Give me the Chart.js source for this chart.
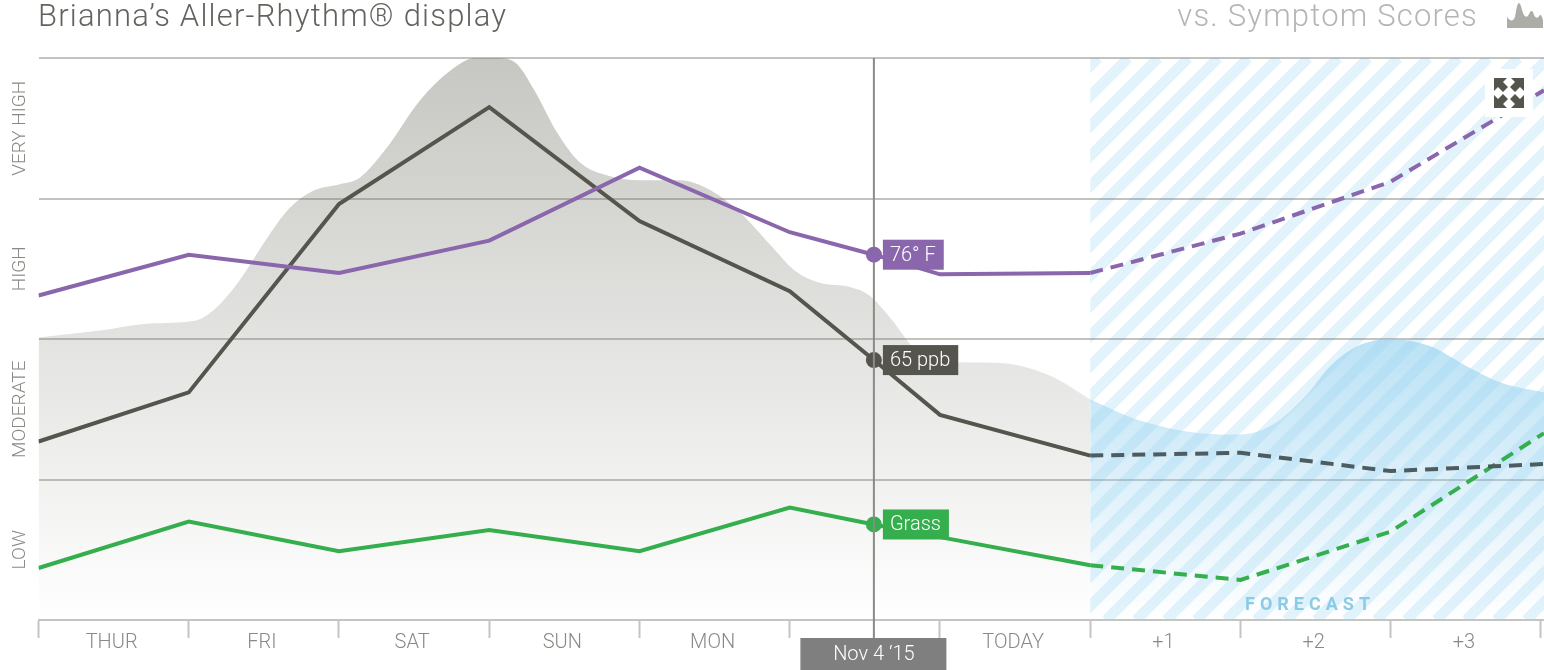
<!DOCTYPE html>
<html>
<head>
<meta charset="utf-8">
<title>Aller-Rhythm display</title>
<script src="https://cdn.jsdelivr.net/npm/chart.js@4"></script>
<style>
	html, body { margin: 0; padding: 0; background: #fff; overflow: hidden; }
	#wrap { position: relative; width: 1544px; height: 670px; font-family: Roboto, sans-serif; font-weight: 300; }
	#chart { position: absolute; left: 0; top: 0; }
	.head { position: absolute; top: -2px; font-size: 31px; line-height: 36px; letter-spacing: 1.2px; white-space: nowrap; }
	#title { left: 38px; color: #63635e; }
	#compare { right: 66px; color: #b5b5b1; }
	.icon { position: absolute; }
</style>
</head>
<body>
<div id="wrap">
	<canvas id="chart" width="1544" height="670"></canvas>
	<div class="head" id="title">Brianna’s Aller-Rhythm® display</div>
	<div class="head" id="compare">vs. Symptom Scores</div>
	<svg class="icon" style="left:1507px;top:0" width="37" height="30" viewBox="0 0 37 30">
		<path fill="#adada8" d="M0 28V17C3 21 6 22 8 17C9 12 10 3 12 3C14 3 15 12 17 15C19 18 21 17 23 12C25 10 26 11 27 15C29 19 31 18 33 15C34 14 35 17 36 20V28Z"/>
	</svg>
	<svg class="icon" style="left:1485px;top:69px" width="48" height="48" viewBox="0 0 48 48">
		<rect width="48" height="48" fill="#fff"/>
		<g fill="#55554e">
			<path id="arrow" d="M9 9H22L18 13L23 18L18 23L13 18L9 22Z"/>
			<path d="M39 9H26L30 13L25 18L30 23L35 18L39 22Z"/>
			<path d="M9 39H22L18 35L23 30L18 25L13 30L9 26Z"/>
			<path d="M39 39H26L30 35L25 30L30 25L35 30L39 26Z"/>
		</g>
	</svg>
</div>
<script>
var bandLabels = ['LOW', 'MODERATE', 'HIGH', 'VERY HIGH'];
var dayLabels = ['THUR', 'FRI', 'SAT', 'SUN', 'MON', '', 'TODAY', '+1', '+2', '+3'];

//x positions of the line series, 5.56 is the selected date
var days = [0, 1, 2, 3, 4, 5, 5.56, 6, 7, 8, 9, 10.02];
var temperature = [2.31, 2.60, 2.47, 2.70, 3.22, 2.76, 2.60, 2.46, 2.47, 2.75, 3.12, 3.77];
var ozone = [1.27, 1.62, 2.96, 3.65, 2.84, 2.34, 1.85, 1.46, 1.17, 1.19, 1.06, 1.11];
var grass = [0.37, 0.70, 0.49, 0.64, 0.49, 0.80, 0.68, 0.59, 0.39, 0.285, 0.63, 1.33];

var scoreDays = [0, 0.41, 0.74, 1.04, 1.17, 1.34, 1.51, 1.67, 1.84, 2, 2.14, 2.31, 2.54, 2.74, 2.91, 3.04, 3.17, 3.3, 3.44, 3.6, 3.8, 4, 4.27, 4.47, 4.67, 4.87, 5.03, 5.2, 5.4, 5.53, 5.67, 5.84, 6, 6.4, 6.73, 7];
var scores = [2.01, 2.06, 2.11, 2.13, 2.21, 2.42, 2.70, 2.93, 3.06, 3.10, 3.15, 3.35, 3.70, 3.91, 4, 4, 3.97, 3.77, 3.49, 3.26, 3.16, 3.13, 3.13, 3.06, 2.90, 2.67, 2.49, 2.40, 2.37, 2.31, 2.15, 1.92, 1.84, 1.83, 1.74, 1.57];
var forecastDays = [7, 7.33, 7.73, 8, 8.23, 8.43, 8.6, 8.76, 9, 9.26, 9.5, 9.73, 10.02];
var forecastScores = [1.57, 1.42, 1.33, 1.32, 1.40, 1.59, 1.81, 1.94, 2, 1.95, 1.81, 1.69, 1.62];

var selectedDay = 5.56;
var selectedDate = 'Nov 4 ‘15';
var selectedLabels = ['76° F', '65 ppb', 'Grass'];
var forecastStart = 7;
var forecastLabel = 'FORECAST';

var FONT = 'Roboto, sans-serif';

function pairs(xs, ys) {
	return xs.map(function(x, i) { return {x: x, y: ys[i]}; });
}

//vertical fade for the score areas
function areaFill(rgb, from, to) {
	return function(ctx) {
		var area = ctx.chart.chartArea;
		if (!area) {
			return 'rgba(' + rgb + ',0.3)';
		}
		var y = ctx.chart.scales.y;
		var g = ctx.chart.ctx.createLinearGradient(0, y.getPixelForValue(from[0]), 0, y.getPixelForValue(0));
		g.addColorStop(0, 'rgba(' + rgb + ',' + from[1] + ')');
		g.addColorStop(1, 'rgba(' + rgb + ',' + to + ')');
		return g;
	};
}

function areaSet(xs, ys, fill) {
	return {
		data: pairs(xs, ys),
		type: 'line',
		fill: 'origin',
		order: 5,
		borderWidth: 0,
		pointRadius: 0,
		cubicInterpolationMode: 'monotone',
		backgroundColor: fill
	};
}

//solid up to today, dashed in the forecast
function lineSet(values, color, dashColor) {
	return {
		data: pairs(days, values),
		order: 1,
		borderColor: color,
		backgroundColor: color,
		borderWidth: 4,
		borderJoinStyle: 'miter',
		fill: false,
		tension: 0,
		pointBorderWidth: 0,
		pointRadius: function(ctx) { return ctx.parsed && ctx.parsed.x === selectedDay ? 8 : 0; },
		segment: {
			borderDash: function(ctx) { return ctx.p0.parsed.x >= forecastStart ? [13, 8] : undefined; },
			borderColor: function(ctx) { return ctx.p0.parsed.x >= forecastStart ? dashColor : color; }
		}
	};
}

var stripes = {
	id: 'stripes',
	beforeDraw: function(chart) {
		var c = chart.ctx, a = chart.chartArea;
		var left = chart.scales.x.getPixelForValue(forecastStart);
		var period = 30;
		c.save();
		c.beginPath();
		c.rect(left, a.top, a.right - left, a.height);
		c.clip();
		c.strokeStyle = '#e2f3fb';
		c.lineWidth = period * Math.SQRT1_2 / 2;
		var h = a.height;
		for (var x = left - period + 8; x < a.right + h; x += period) {
			c.beginPath();
			c.moveTo(x - h, a.bottom);
			c.lineTo(x, a.top);
			c.stroke();
		}
		c.restore();
	},
	//date rule sits above the areas but under the lines
	beforeDatasetDraw: function(chart, args) {
		if (args.index !== 2) {
			return;
		}
		var c = chart.ctx, x = chart.scales.x.getPixelForValue(selectedDay);
		c.save();
		c.strokeStyle = '#8a8a88';
		c.lineWidth = 2;
		c.beginPath();
		c.moveTo(x, chart.chartArea.top);
		c.lineTo(x, chart.chartArea.bottom + 20);
		c.stroke();
		c.restore();
	},
	afterDatasetsDraw: function(chart) {
		var c = chart.ctx, xs = chart.scales.x, ys = chart.scales.y;
		var x = xs.getPixelForValue(selectedDay);
		var series = [temperature, ozone, grass];
		var colors = ['#8a66ac', '#55554e', '#35ae4e'];
		var at = days.indexOf(selectedDay);
		c.save();
		c.font = '300 20px ' + FONT;
		c.textBaseline = 'middle';
		c.textAlign = 'left';
		series.forEach(function(values, i) {
			var y = ys.getPixelForValue(values[at]);
			var w = c.measureText(selectedLabels[i]).width + 15;
			c.fillStyle = colors[i];
			c.fillRect(x + 9, y - 15, w, 30);
			c.fillStyle = '#fff';
			c.fillText(selectedLabels[i], x + 16, y + 1);
		});

		//date flag under the axis
		c.fillStyle = '#7f7f7f';
		c.fillRect(x - 73.5, chart.chartArea.bottom + 18, 146, 32);
		c.fillStyle = '#fff';
		c.textAlign = 'center';
		c.fillText(selectedDate, x, chart.chartArea.bottom + 35);

		c.font = '700 18px ' + FONT;
		c.fillStyle = '#8ccbe8';
		c.letterSpacing = '5px';
		c.textAlign = 'left';
		c.fillText(forecastLabel, xs.getPixelForValue(8.03), ys.getPixelForValue(0.1));
		c.restore();
	}
};

function mainFunc() {
	new Chart(document.getElementById('chart'), {
		type: 'scatter',
		plugins: [stripes],
		data: {
			datasets: [
				areaSet(scoreDays, scores, areaFill('120,120,110', [4, 0.42], 0)),
				areaSet(forecastDays, forecastScores, areaFill('150,210,240', [2, 0.65], 0)),
				Object.assign(lineSet(temperature, '#8a66ac', '#8a66ac'), {type: 'line'}),
				Object.assign(lineSet(ozone, '#55554e', '#4c5c60'), {type: 'line'}),
				Object.assign(lineSet(grass, '#35ae4e', '#35ae4e'), {type: 'line'})
			]
		},
		options: {
			responsive: false,
			animation: false,
			events: [],
			layout: { padding: { top: 58, right: 0, bottom: 0, left: 0 } },
			plugins: { legend: { display: false }, tooltip: { enabled: false }, title: { display: false } },
			scales: {
				x: {
					type: 'linear',
					min: 0,
					max: 10.02,
					afterBuildTicks: function(scale) {
						var t = [];
						for (var i = 0; i <= dayLabels.length; i++) {
							t.push({value: i});
							if (i < dayLabels.length) {
								t.push({value: i + 0.5});
							}
						}
						scale.ticks = t;
					},
					afterFit: function(scale) { scale.height = 50; },
					border: { display: true, color: '#c4c4c2', width: 2 },
					grid: {
						drawOnChartArea: false,
						tickLength: 18,
						tickWidth: 2,
						tickColor: function(ctx) { return ctx.tick && ctx.tick.value % 1 === 0 ? '#c4c4c2' : 'rgba(0,0,0,0)'; }
					},
					ticks: {
						autoSkip: false,
						maxRotation: 0,
						minRotation: 0,
						labelOffset: -2,
						padding: -7,
						color: '#8a8a84',
						font: { family: FONT, size: 20, weight: '300' },
						callback: function(value) {
							return value % 1 === 0 ? '' : dayLabels[Math.floor(value)];
						}
					}
				},
				y: {
					min: 0,
					max: 4,
					afterBuildTicks: function(scale) {
						var t = [];
						for (var i = 0; i <= bandLabels.length; i++) {
							t.push({value: i});
							if (i < bandLabels.length) {
								t.push({value: i + 0.5});
							}
						}
						scale.ticks = t;
					},
					afterFit: function(scale) { scale.width = 38.5; },
					border: { display: false },
					grid: {
						drawTicks: false,
						lineWidth: 2,
						color: function(ctx) { return ctx.tick && ctx.tick.value % 1 === 0 && ctx.tick.value > 0 ? 'rgba(120,120,112,0.45)' : 'rgba(0,0,0,0)'; }
					},
					ticks: {
						autoSkip: false,
						minRotation: 90,
						maxRotation: 90,
						crossAlign: 'center',
						padding: -30,
						color: '#8a8a84',
						font: { family: FONT, size: 19, weight: '300' },
						callback: function(value) {
							return value % 1 === 0 ? '' : bandLabels[Math.floor(value)];
						}
					}
				}
			}
		}
	});
}

window.onload = mainFunc;
</script>
</body>
</html>
